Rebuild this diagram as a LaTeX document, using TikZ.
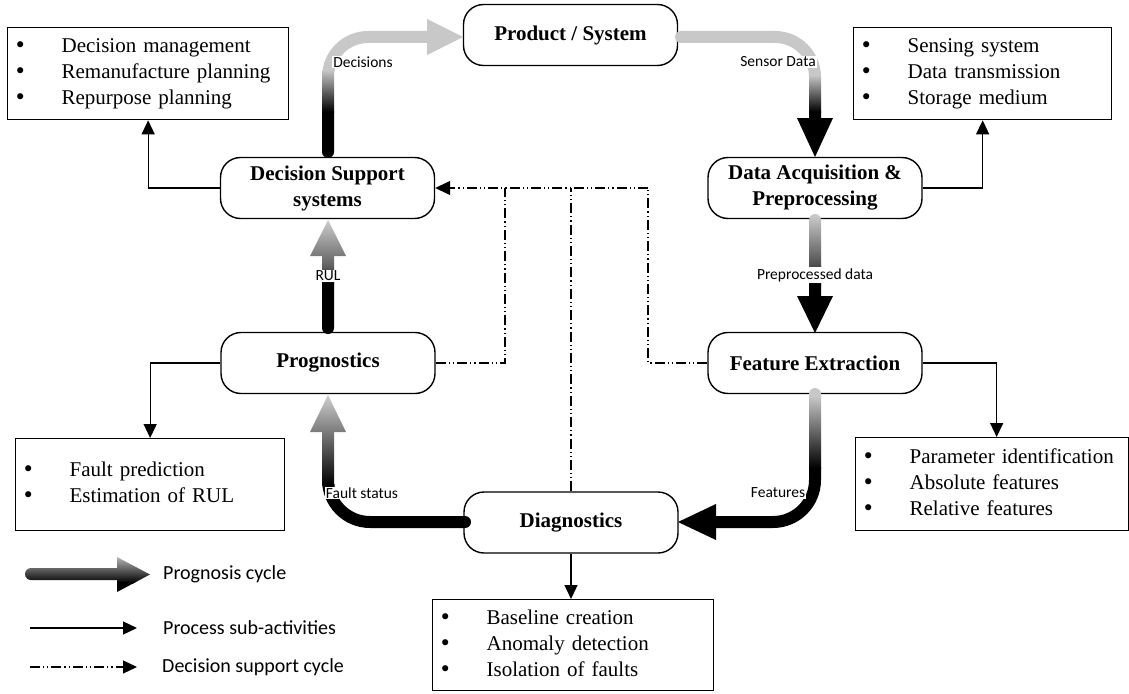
\documentclass[tikz,border=0pt]{standalone}
\usepackage{fontspec}
\setmainfont{Liberation Serif}
\newfontfamily\calibri{Carlito}
\newfontfamily\dejavu{DejaVu Sans}
\usetikzlibrary{arrows.meta}
\definecolor{lg}{RGB}{200,200,200}
\newcommand\bul{{\dejavu •}}
\begin{document}
\begin{tikzpicture}[x=1pt,y=-1pt,
  proc/.style={draw, line width=1.4pt, rounded corners=20pt, minimum width=214pt, minimum height=61pt, align=center, font=\fontsize{21}{26}\selectfont\bfseries, inner sep=2pt},
  listbox/.style={draw, line width=1.3pt, anchor=north west, inner xsep=6.5pt, inner ysep=0pt, align=left, font=\fontsize{21}{26}\selectfont},
  lbl/.style={fill=white, inner sep=1pt, font=\calibri\fontsize{15.5}{18}\selectfont},
  legtxt/.style={anchor=west, inner sep=0pt, font=\calibri\fontsize{20}{24}\selectfont},
  sub/.style={line width=1.3pt, -{Triangle[length=14pt,width=13pt]}},
  dsc/.style={line width=1.2pt, dash pattern=on 10pt off 3pt on 1.2pt off 3pt on 1.2pt off 3pt},
]
\useasboundingbox (0,0) rectangle (1129,693);

% process nodes
\node[proc] (prod) at (570.5,35) {Product / System};
\node[proc] (dss) at (327.5,188) {Decision Support\\systems};
\node[proc] (dap) at (815,188) {Data Acquisition \&\\Preprocessing};
\node[proc] (prog) at (328,363) {Prognostics};
\node[proc] (fe) at (815,363) {Feature Extraction};
\node[proc] (diag) at (571,522.5) {Diagnostics};

% sub-activity boxes
\node[listbox, text width=268pt, minimum height=92pt] (tl) at (7,27)
 {\begin{tabular}{@{}p{47.5pt}@{}l@{}}\bul & Decision management\\ \bul & Remanufacture planning\\ \bul & Repurpose planning\end{tabular}};
\node[listbox, text width=245pt, minimum height=92pt] (tr) at (853,27)
 {\begin{tabular}{@{}p{47.5pt}@{}l@{}}\bul & Sensing system\\ \bul & Data transmission\\ \bul & Storage medium\end{tabular}};
\node[listbox, text width=256pt, minimum height=92pt] (ml) at (15,438)
 {\begin{tabular}{@{}p{47.5pt}@{}l@{}}\bul & Fault prediction\\ \bul & Estimation of RUL\end{tabular}};
\node[listbox, text width=260pt, minimum height=93pt] (mr) at (855,437)
 {\begin{tabular}{@{}p{47.5pt}@{}l@{}}\bul & Parameter identification\\ \bul & Absolute features\\ \bul & Relative features\end{tabular}};
\node[listbox, text width=268pt, minimum height=91pt] (bb) at (432,599)
 {\begin{tabular}{@{}p{47.5pt}@{}l@{}}\bul & Baseline creation\\ \bul & Anomaly detection\\ \bul & Isolation of faults\end{tabular}};

% thin sub-activity arrows
\draw[sub] (dss.west) -| (tl.south);
\draw[sub] (dap.east) -| (tr.south);
\draw[sub] (prog.west) -| (ml.north);
\draw[sub] (fe.east) -| ([xshift=4.5pt]mr.north);
\draw[sub] (diag.south) -- (diag.south |- bb.north);

% thick prognosis-cycle arrows
% Decisions
\begin{scope}
\clip (322,152) -- (322,77) arc[start angle=180,end angle=270,radius=46] -- (427,31) -- (427,19) -- (463,37) -- (427,55) -- (427,43) -- (368,43) arc[start angle=270,end angle=180,radius=34] -- (334,152) arc[start angle=0,end angle=180,radius=6] -- cycle;
\fill[lg] (300,0) rectangle (470,71);
\fill[black] (300,111) rectangle (470,170);
\shade[top color=lg, bottom color=black] (300,70) rectangle (470,112);
\end{scope}
% Sensor Data
\begin{scope}
\clip (681,31) -- (775,31) arc[start angle=270,end angle=360,radius=46] -- (821,118) -- (833,118) -- (815,157) -- (797,118) -- (809,118) -- (809,77) arc[start angle=0,end angle=-90,radius=34] -- (681,43) arc[start angle=90,end angle=270,radius=6] -- cycle;
\fill[lg] (670,0) rectangle (840,76);
\fill[black] (670,111) rectangle (840,170);
\shade[top color=lg, bottom color=black] (670,75) rectangle (840,112);
\end{scope}
% Preprocessed data
\begin{scope}
\clip (809,220) -- (809,296) -- (797,296) -- (815,333) -- (833,296) -- (821,296) -- (821,220) arc[start angle=0,end angle=-180,radius=6] -- cycle;
\fill[lg] (790,200) rectangle (840,217);
\fill[black] (790,284) rectangle (840,340);
\shade[top color=lg, bottom color=black!70] (790,216) rectangle (840,266);
\shade[top color=black!70, bottom color=black] (790,265) rectangle (840,285);
\end{scope}
% Features
\begin{scope}
\clip (809,394) -- (809,480) arc[start angle=0,end angle=90,radius=36] -- (716,516) -- (716,504) -- (678,522) -- (716,540) -- (716,528) -- (773,528) arc[start angle=90,end angle=0,radius=48] -- (821,394) arc[start angle=0,end angle=-180,radius=6] -- cycle;
\fill[lg] (670,380) rectangle (830,397);
\fill[black] (670,467) rectangle (830,550);
\shade[top color=lg, bottom color=black] (670,396) rectangle (830,468);
\end{scope}
% Fault status
\begin{scope}
\clip (465,516) -- (370,516) arc[start angle=90,end angle=180,radius=36] -- (334,432) -- (346,432) -- (328,395) -- (310,432) -- (322,432) -- (322,480) arc[start angle=180,end angle=90,radius=48] -- (465,528) arc[start angle=90,end angle=-90,radius=6] -- cycle;
\fill[lg] (300,390) rectangle (480,399);
\fill[black] (300,484) rectangle (480,540);
\shade[top color=lg, bottom color=black] (300,398) rectangle (480,485);
\end{scope}
% RUL
\begin{scope}
\clip (322,328) -- (322,256) -- (310,256) -- (328,220) -- (346,256) -- (334,256) -- (334,328) arc[start angle=0,end angle=180,radius=6] -- cycle;
\fill[lg] (300,210) rectangle (350,223);
\fill[black] (300,283) rectangle (350,340);
\shade[top color=lg, bottom color=black!65] (300,222) rectangle (350,269);
\shade[top color=black!65, bottom color=black] (300,268) rectangle (350,284);
\end{scope}

% labels of the prognosis cycle
\node[lbl] (ldec) at (363,62) {Decisions};
\node[lbl] (lsen) at (778,62) {Sensor Data};
\node[lbl] (lpre) at (815,275) {Preprocessed data};
\node[lbl] (lrul) at (328,276) {RUL};
\node[lbl] (lfs) at (362,493) {Fault status};
\node[lbl] (lfeat) at (778,493) {Features};

% decision support cycle
\coordinate (jl) at (505,188);
\coordinate (jm) at (571,188);
\coordinate (jr) at (648,188);
\draw[dsc] (prog.east) -| (jl);
\draw[dsc] (fe.west) -| (jr);
\draw[dsc] (diag.north) -- (jm);
\draw[dsc, -{Triangle[length=15pt,width=14pt]}] (jr) -- (dss.east);

% legend
\begin{scope}
\clip (31,568) -- (117,568) -- (117,557) -- (150,574.5) -- (117,592) -- (117,580) -- (31,580) arc[start angle=90,end angle=270,radius=6] -- cycle;
\shade[top color=lg, bottom color=black] (20,554) rectangle (155,583);
\fill[black] (20,582) rectangle (155,595);
\end{scope}
\coordinate (l2a) at (30,628);
\coordinate (l2b) at (137,628);
\coordinate (l3a) at (30,667);
\coordinate (l3b) at (137,667);
\draw[sub] (l2a) -- (l2b);
\draw[dsc, -{Triangle[length=14pt,width=13pt]}] (l3a) -- (l3b);
\node[legtxt] (t1) at (163,574) {Prognosis cycle};
\node[legtxt] (t2) at (163,628) {Process sub-activities};
\node[legtxt] (t3) at (162,667) {Decision support cycle};
\end{tikzpicture}
\end{document}
